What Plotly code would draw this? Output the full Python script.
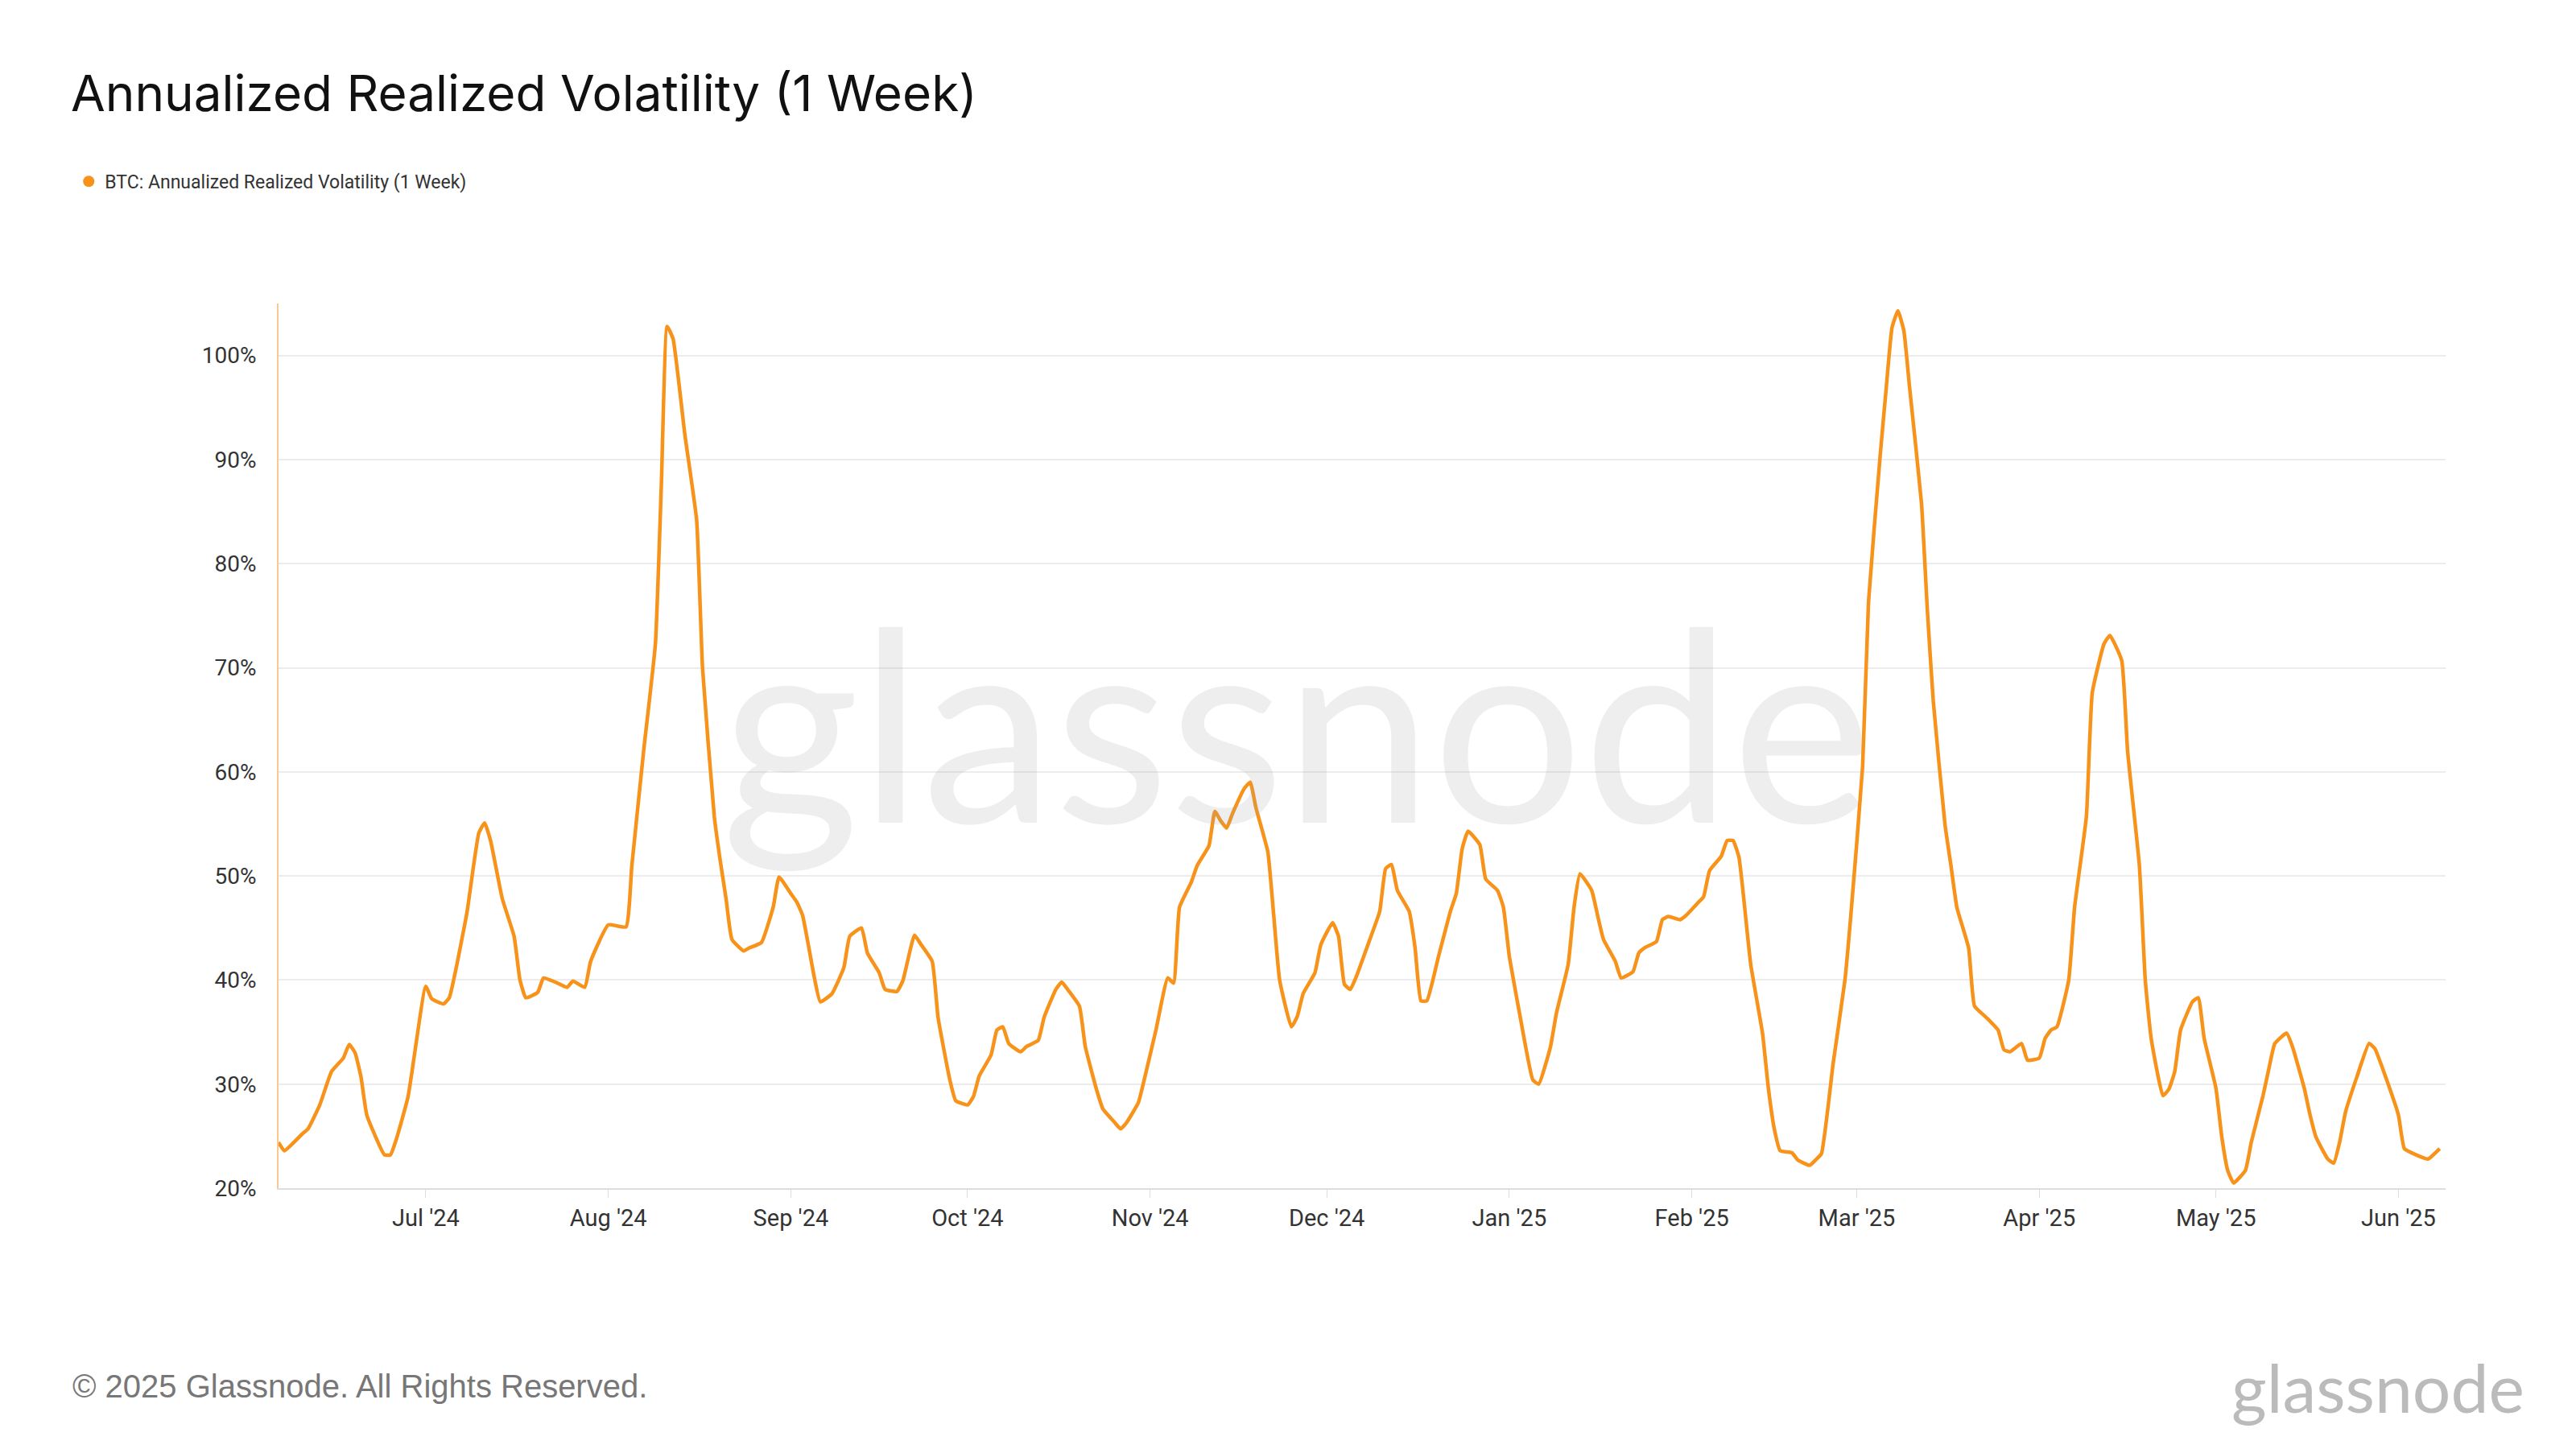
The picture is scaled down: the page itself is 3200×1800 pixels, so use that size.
import plotly.graph_objects as go
import pandas as pd

start = pd.Timestamp("2024-06-06")
day_offsets = [0,1,4,5,7,9,11,12,13,14,15,18,19,20,22,25,26,28,29,30,32,34,35,36,38,40,41,42,44,45,47,49,50,52,53,56,59,60,62,64,65,66,67,69,71,72,74,75,76,77,79,80,82,84,85,87,88,89,91,92,94,96,97,99,100,102,103,105,106,108,109,111,112,114,115,117,118,119,121,122,123,124,126,127,129,130,132,133,134,136,137,139,140,142,143,144,146,147,149,151,152,153,155,156,158,159,160,161,162,164,165,166,168,169,170,172,173,174,176,177,179,180,181,182,183,185,187,188,189,190,192,193,194,195,197,199,200,201,202,204,205,207,208,209,210,211,213,214,216,217,219,220,221,223,224,225,227,228,230,231,232,234,235,236,238,239,241,242,243,245,246,247,248,250,252,253,254,255,257,258,260,261,262,264,266,267,269,270,272,273,274,275,276,277,279,280,281,283,284,285,287,288,290,292,293,294,296,297,299,300,301,302,304,305,307,308,310,311,313,314,316,317,318,320,321,322,323,325,326,327,329,330,331,332,334,335,337,338,339,341,342,344,345,346,348,349,350,351,353,355,356,358,360,361,363,365,367]
volatility = [24.4,23.6,25.2,25.7,28,31.2,32.5,33.8,33,30.7,27,23.2,23.2,24.7,28.8,39.4,38.2,37.7,38.3,40.7,46.5,54.1,55.1,53.4,47.8,44.2,40,38.3,38.8,40.2,39.8,39.3,39.9,39.3,41.8,45.3,45.1,51,62,72.3,87.4,102.8,101.6,92.4,84.2,70,55.7,51.5,47.8,43.9,42.8,43.1,43.6,47,49.9,48.3,47.5,46.2,40.2,37.9,38.7,41.2,44.2,45,42.6,40.7,39.1,38.9,39.9,44.3,43.5,41.8,36.4,30.4,28.4,28,28.8,30.8,32.8,35.2,35.5,33.9,33.1,33.6,34.2,36.4,39.1,39.8,39.1,37.5,33.6,29.3,27.6,26.3,25.7,26.3,28.2,30.4,35.2,40.2,39.7,47,49.4,51,52.9,56.2,55.3,54.6,56,58.4,59,56.5,52.3,46.2,40,35.5,36.5,38.7,40.7,43.4,45.5,44.2,39.6,39.1,40.3,43.4,46.6,50.7,51.1,48.6,46.6,43.1,38,38,42.3,46.6,48.3,52.6,54.3,53,49.7,48.6,47,42.3,39.1,36,30.4,30,33.6,36.8,41.5,47,50.2,48.6,46.2,43.9,41.8,40.2,40.8,42.6,43.1,43.7,45.8,46.1,45.8,46.2,47.4,48,50.5,51.9,53.4,53.4,51.8,41.5,34.9,29.6,25.7,23.6,23.4,22.7,22.2,22.7,23.3,32,40,46.2,60.5,76.3,90.5,96.8,102.7,104.3,102.4,96.8,85.8,75.5,66.8,54.9,51,47,43.1,37.5,36.4,35.2,33.3,33.1,33.9,32.3,32.5,34.4,35.2,35.5,40,47,55.7,67.6,72.3,73.1,70.7,62,51,40,34.4,28.9,29.5,31.2,35.2,37.9,38.3,34.4,29.6,24.9,21.7,20.5,21.7,24.4,28.9,31.5,33.9,34.9,33.6,29.6,27,24.9,22.8,22.4,24.4,27.3,30.8,33.9,33.4,30.4,27,23.8,23.2,22.8,23.8]
dates = [start + pd.Timedelta(days=d) for d in day_offsets]
y_ticks = [20, 30, 40, 50, 60, 70, 80, 90, 100]
y_labels = [f"{v}%" for v in y_ticks]
x_ticks = pd.date_range("2024-07-01", "2025-06-01", freq="MS")
series_name = "BTC: Annualized Realized Volatility (1 Week)"

orange = "#f7931a"
fig = go.Figure()
fig.add_trace(go.Scatter(x=dates, y=volatility, mode="lines", showlegend=False,
                         line=dict(color=orange, width=4.5, shape="spline", smoothing=0.4), name=series_name))
fig.add_trace(go.Scatter(x=[None], y=[None], mode="markers", marker=dict(color=orange, size=14), name=series_name))

fig.update_layout(
    width=3200, height=1800, paper_bgcolor="white", plot_bgcolor="white",
    font=dict(family="Roboto, Noto Sans, sans-serif", color="#222"),
    margin=dict(l=338, r=170, t=369, b=332),
    title=dict(text="Annualized Realized Volatility (1 Week)", x=0.025, xanchor="left", y=0.94, yanchor="middle",
               font=dict(size=62, color="#111", family="Inter, Roboto, sans-serif")),
    showlegend=True,
    legend=dict(x=-0.095, xanchor="left", y=1.138, yanchor="middle", orientation="h",
                font=dict(size=23, color="#333"), itemwidth=30, bgcolor="rgba(0,0,0,0)"),
    xaxis=dict(range=[start, pd.Timestamp("2025-06-09")], tickvals=x_ticks, tickformat="%b '%y",
               showgrid=False, showline=True, linecolor="#ddd", linewidth=2, ticks="outside", tickcolor="#ddd",
               ticklen=10, tickfont=dict(size=29, color="#333")),
    yaxis=dict(range=[20, 105], tickvals=y_ticks, ticktext=y_labels, showgrid=True, gridcolor="#ececec", gridwidth=2,
               showline=True, linecolor="#f9c98e", linewidth=2, zeroline=False, tickfont=dict(size=28, color="#333"),
               ticks="", ticklabelstandoff=20),
)
fig.add_annotation(text="glassnode", xref="paper", yref="paper", x=0.47, y=0.53, showarrow=False,
                   font=dict(size=330, color="rgba(160,160,160,0.18)", family="Lato, Roboto, sans-serif"))
fig.add_annotation(text="© 2025 Glassnode. All Rights Reserved.", xref="paper", yref="paper", x=-0.096, xanchor="left",
                   y=-0.224, yanchor="middle", showarrow=False, font=dict(size=40, color="#777", family="Liberation Sans, Arial"))
fig.add_annotation(text="glassnode", xref="paper", yref="paper", x=1.037, xanchor="right",
                   y=-0.224, yanchor="middle", showarrow=False, font=dict(size=84, color="#bbb", family="Lato, Roboto, sans-serif"))
fig.write_html("out.html")
